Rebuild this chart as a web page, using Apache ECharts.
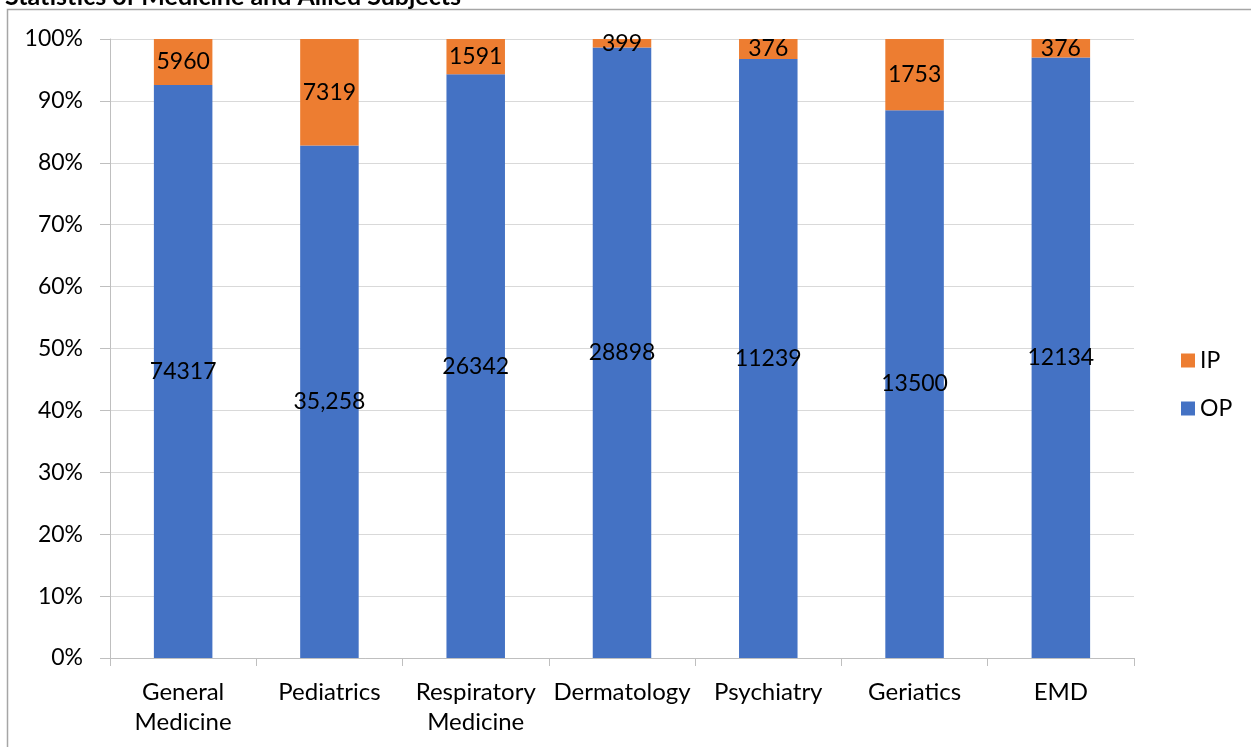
<!DOCTYPE html>
<html>
<head>
    <meta charset="UTF-8">
    <title>Statistics of Medicine and Allied Subjects</title>
    <script src="https://cdn.jsdelivr.net/npm/echarts@6/dist/echarts.min.js"></script>
    <style>
        html, body { margin: 0; padding: 0; background: #fff; }
        #container { width: 1251px; height: 747px; }
    </style>
</head>
<body>
<div id="container"></div>
<script>
    var categories = ['General\nMedicine', 'Pediatrics', 'Respiratory\nMedicine', 'Dermatology', 'Psychiatry', 'Geriatics', 'EMD'];
    var opValues = [74317, 35258, 26342, 28898, 11239, 13500, 12134];
    var ipValues = [5960, 7319, 1591, 399, 376, 1753, 376];
    var opLabels = ['74317', '35,258', '26342', '28898', '11239', '13500', '12134'];
    var ipLabels = ['5960', '7319', '1591', '399', '376', '1753', '376'];

    // percent of each bar total
    var opPct = opValues.map(function (v, i) { return v / (v + ipValues[i]) * 100; });
    var ipPct = ipValues.map(function (v, i) { return v / (v + opValues[i]) * 100; });

    var font = 'Lato, "Open Sans", sans-serif';

    var myChart = echarts.init(document.getElementById('container'));
    myChart.setOption({
        animation: false,
        title: {
            text: 'Statistics of Medicine and Allied Subjects',
            left: 0,
            top: -21,
            textStyle: { fontFamily: font, fontWeight: 'bold', fontSize: 25, color: '#000' }
        },
        graphic: [{
            type: 'polyline',
            shape: { points: [[7.5, 747], [7.5, 9.5], [1251, 9.5]] },
            style: { stroke: '#a6a6a6', lineWidth: 1.5, fill: null }
        }],
        legend: {
            orient: 'vertical',
            left: 1176,
            top: 344,
            itemGap: 25,
            itemWidth: 14,
            itemHeight: 14,
            icon: 'rect',
            data: ['IP', 'OP'],
            textStyle: { fontFamily: font, fontSize: 23, color: '#000' }
        },
        grid: { left: 110, right: 117, top: 39, bottom: 89 },
        xAxis: {
            type: 'category',
            data: categories,
            axisLine: { lineStyle: { color: '#bfbfbf' } },
            axisTick: { show: true, length: 8, lineStyle: { color: '#bfbfbf' } },
            axisLabel: { fontFamily: font, fontSize: 24, color: '#000', margin: 19, lineHeight: 30, interval: 0 }
        },
        yAxis: {
            type: 'value',
            min: 0,
            max: 100,
            interval: 10,
            axisLine: { show: true, lineStyle: { color: '#bfbfbf' } },
            axisTick: { show: true, length: 10, lineStyle: { color: '#bfbfbf' } },
            splitLine: { lineStyle: { color: '#d9d9d9' } },
            axisLabel: { formatter: '{value}%', fontFamily: font, fontSize: 23, color: '#000', margin: 27 }
        },
        series: [{
            name: 'OP',
            type: 'bar',
            stack: 'total',
            barWidth: '40%',
            itemStyle: { color: '#4472c4' },
            label: {
                show: true, position: 'inside', color: '#000', fontFamily: font, fontSize: 23,
                formatter: function (p) { return opLabels[p.dataIndex]; }
            },
            data: opPct
        }, {
            name: 'IP',
            type: 'bar',
            stack: 'total',
            itemStyle: { color: '#ed7d31' },
            label: {
                show: true, position: 'inside', color: '#000', fontFamily: font, fontSize: 23,
                formatter: function (p) { return ipLabels[p.dataIndex]; }
            },
            data: ipPct
        }]
    });
</script>
</body>
</html>
